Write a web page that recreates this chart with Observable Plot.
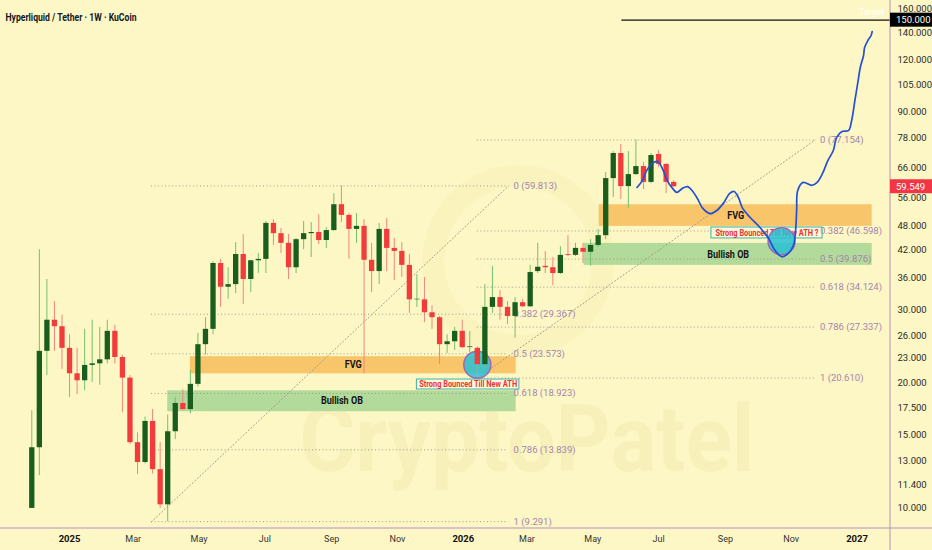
<!DOCTYPE html>
<html><head><meta charset="utf-8">
<script src="https://cdn.jsdelivr.net/npm/d3@7"></script>
<script src="https://cdn.jsdelivr.net/npm/@observablehq/plot@0.6"></script>
<style>
html,body{margin:0;padding:0;background:#fdf7c5;}
#chart{width:932px;height:550px;overflow:hidden;}
</style></head><body><div id="chart"></div>
<script>
// ---------- data ----------
const title = "Hyperliquid / Tether · 1W · KuCoin";
const firstWeek = "2024-11-27";
const open = [10.0,14.0,23.9,28.4,27.4,24.3,21.1,20.3,22.1,22.3, 22.8,26.7,23.1,20.6,14.4,12.9,16.2,12.4,10.2,15.3,
  17.9,17.3,19.9,24.8,27.0,38.9,34.1,34.6,40.9,35.6, 39.5,39.8,48.6,45.9,43.5,38.0,44.4,45.9,46.2,44.2,
  46.7,53.9,50.8,47.0,47.8,39.6,37.2,47.0,42.3,41.6, 38.5,31.8,31.8,29.6,28.8,24.8,25.2,26.7,24.4,24.3,
  22.2,30.5,32.2,30.5,29.0,31.3,30.6,37.2,38.3,38.0, 36.8,40.9,40.7,42.3,41.4,43.0,45.4,62.3,71.6,59.6,
  63.7,66.6,61.0,71.2,67.4,61.0];
const high = [17.2,42.0,35.6,31.5,29.2,26.2,24.3,27.0,28.4,27.3, 28.4,27.6,23.4,20.9,15.2,16.6,17.3,14.4,16.8,18.5,
  19.3,21.5,26.4,28.8,39.3,39.8,38.0,43.7,45.7,39.6, 41.1,49.1,49.6,47.2,45.7,44.7,49.1,48.8,51.0,47.5,
  57.3,59.813,51.3,51.3,49.6,43.5,48.6,49.9,44.7,43.7, 40.9,36.6,36.0,30.8,29.0,26.2,27.3,28.4,26.7,24.5,
  34.6,38.3,33.5,31.5,32.2,31.9,38.5,43.5,41.6,40.2, 42.7,45.4,43.5,43.5,44.4,47.0,64.4,72.4,75.3,72.4,
  77.154,68.1,71.6,72.8,67.7,61.6];
const low = [10.0,12.0,20.9,23.9,21.6,18.5,18.8,19.2,20.1,19.8, 22.3,22.3,17.0,14.25,12.07,12.8,12.1,10.0,9.291,14.65,
  17.2,16.9,19.6,23.4,26.2,30.5,31.9,32.9,31.0,33.1, 36.8,36.8,43.0,41.1,35.6,36.8,42.0,40.2,43.2,42.3,
  46.5,48.8,39.8,43.5,21.1,33.1,34.6,37.2,35.4,36.0, 29.5,30.5,28.0,27.0,22.2,23.6,24.0,24.3,23.7,20.61,
  21.85,29.5,28.4,27.7,25.7,30.5,30.5,36.8,36.8,34.4, 36.6,40.4,40.4,38.9,38.3,42.5,44.4,56.1,55.5,52.8,
  63.4,58.6,60.6,66.2,57.3,59.3];
const close = [14.0,23.9,28.4,27.4,24.3,21.1,20.3,22.1,22.3,22.8, 26.7,23.1,20.6,14.4,12.9,16.2,12.4,10.2,15.3,17.9,
  17.3,19.9,24.8,27.0,38.9,34.1,34.6,40.9,35.6,39.5, 39.8,48.6,45.9,43.5,38.0,44.4,45.9,46.2,44.2,46.7,
  53.9,50.8,47.0,47.8,39.6,37.2,47.0,42.3,41.6,38.5, 31.8,31.9,29.6,28.8,24.8,25.2,26.7,24.4,24.5,22.2,
  30.5,32.2,30.5,29.0,31.3,30.6,37.0,38.1,38.0,36.8, 40.7,40.7,42.3,41.4,43.0,45.4,62.3,71.6,59.6,63.7,
  66.6,61.0,70.8,67.4,61.0,59.549];

const zoneNames  = ["FVG","Bullish OB","FVG","Bullish OB"];
const zoneStart  = ["2025-04-23","2025-04-02","2026-05-07","2026-04-23"];
const zoneEnd    = ["2026-02-19","2026-02-19","2027-01-15","2027-01-15"];
const zoneTop    = [23.2,19.2,53.9,43.5];
const zoneBottom = [21.1,17.1,47.8,38.5];

const fibLevels = ["0","0.382","0.5","0.618","0.786","1"];
const fibLeftValues  = [59.813,29.367,23.573,18.923,13.839,9.291];
const fibRightValues = [77.154,46.598,39.876,34.124,27.337,20.610];
const fibLeftDates  = ["2025-03-18","2026-02-12"];
const fibRightDates = ["2026-01-14","2026-11-23"];

const pathDates = ["2026-06-11","2026-06-16","2026-06-20","2026-06-25","2026-06-30","2026-07-02","2026-07-05","2026-07-09",
 "2026-07-14","2026-07-18","2026-07-23","2026-07-28","2026-08-01","2026-08-06","2026-08-11","2026-08-18","2026-08-24",
 "2026-08-30","2026-09-05","2026-09-09","2026-09-13","2026-09-17","2026-09-24","2026-10-03","2026-10-11","2026-10-17",
 "2026-10-23","2026-10-29","2026-11-03","2026-11-05","2026-11-06","2026-11-07","2026-11-12","2026-11-20","2026-11-25",
 "2026-11-30","2026-12-05","2026-12-10","2026-12-13","2026-12-18","2026-12-24","2026-12-27","2026-12-30","2027-01-02",
 "2027-01-04","2027-01-07","2027-01-08","2027-01-11","2027-01-14","2027-01-15"];
const pathPrices = [59.3,61.6,65.2,67.7,68.5,67.7,65.5,61.6,
 59.0,57.7,59.0,59.6,58.3,55.8,52.8,51.3,52.2,
 54.3,57.4,58.0,56.1,52.8,50.2,47.5,44.7,41.8,
 40.4,41.1,43.0,46.7,52.2,58.3,61.0,60.0,61.0,
 64.1,68.9,72.8,78.2,80.9,81.3,86.0,96.1,107.3,
 115.4,123.3,128.9,134.0,137.8,140.8];

const bounceDates  = ["2026-01-14","2026-10-23"];
const bouncePrices = [22.2,44.0];
const calloutText   = ["Strong Bounced Till New ATH","Strong Bounced Till New ATH ?"];
const calloutStart  = ["2025-11-19","2026-08-19"];
const calloutEnd    = ["2026-02-22","2026-11-30"];
const calloutTop    = [20.44,47.5];
const calloutBottom = [19.34,44.7];

const targetPrice = 150;
const targetStart = "2026-05-28";
const lastPrice = 59.549;

const yTicks = [10,11.4,13,15,17.5,20,23,26,30,36,42,48,56,66,78,90,105,120,140,160];
const monthTicks = ["2025-03-01","2025-05-01","2025-07-01","2025-09-01","2025-11-01",
                    "2026-03-01","2026-05-01","2026-07-01","2026-09-01","2026-11-01"];
const yearTicks = ["2025-01-01","2026-01-01","2027-01-01"];

// ---------- build ----------
const D = s => new Date(s);
const xDomain = [D("2024-10-29"), D("2027-02-01")];
const yDomain = [8.946, 167.3];

const candles = open.map((o,i)=>({date: d3.utcDay.offset(D(firstWeek), 7*i), open:o, high:high[i], low:low[i], close:close[i]}));
const upC = candles.filter(d=>d.close>=d.open);
const dnC = candles.filter(d=>d.close<d.open);

const zones = zoneNames.map((n,i)=>({name:n, start:D(zoneStart[i]), end:D(zoneEnd[i]), top:zoneTop[i], bottom:zoneBottom[i],
  mid:new Date((D(zoneStart[i]).getTime()+D(zoneEnd[i]).getTime())/2), gmid:Math.sqrt(zoneTop[i]*zoneBottom[i])}));
const fvg = zones.filter(z=>z.name==="FVG"), ob = zones.filter(z=>z.name!=="FVG");

const fibL = fibLevels.map((l,i)=>({label:`${l} (${fibLeftValues[i].toFixed(3)})`, v:fibLeftValues[i]}));
const fibR = fibLevels.map((l,i)=>({label:`${l} (${fibRightValues[i].toFixed(3)})`, v:fibRightValues[i]}));
const diagL = [{x:D(fibLeftDates[0]), y:fibLeftValues[5]},{x:D(fibLeftDates[1]), y:fibLeftValues[0]}];
const diagR = [{x:D(fibRightDates[0]), y:fibRightValues[5]},{x:D(fibRightDates[1]), y:fibRightValues[0]}];

const path = pathDates.map((d,i)=>({x:D(d), y:pathPrices[i]}));
const bounces = bounceDates.map((d,i)=>({x:D(d), y:bouncePrices[i]}));
const callouts = calloutText.map((t,i)=>({t, x1:D(calloutStart[i]), x2:D(calloutEnd[i]), y1:calloutBottom[i], y2:calloutTop[i],
  xm:new Date((D(calloutStart[i]).getTime()+D(calloutEnd[i]).getTime())/2), ym:Math.sqrt(calloutTop[i]*calloutBottom[i])}));

const fibLine = {stroke:"#a19a8a", strokeWidth:1, strokeDasharray:"1,2.5"};
const fibText = {fill:"#a585ad", fontSize:9.5, textAnchor:"start", dx:5};

const plot = Plot.plot({
  width:932, height:550, marginTop:0, marginBottom:22, marginLeft:0, marginRight:42,
  style:{background:"#fdf7c5", fontFamily:"Roboto, 'Liberation Sans', sans-serif", overflow:"visible"},
  x:{type:"utc", domain:xDomain},
  y:{type:"log", domain:yDomain},
  marks:[
    // watermark
    Plot.dot([{x:D("2026-02-21"), y:39.5}], {x:"x", y:"y", r:85, fill:"none", stroke:"#c8b450", strokeOpacity:0.06, strokeWidth:22}),
    Plot.text([{x:D("2026-03-01"), y:14.5, t:"CryptoPatel"}], {x:"x", y:"y", text:"t", fontSize:92, fontWeight:"bold", fill:"#b8a13c", fillOpacity:0.08}),
    // zones
    Plot.rect(fvg, {x1:"start", x2:"end", y1:"bottom", y2:"top", fill:"#f9c56a"}),
    Plot.rect(ob, {x1:"start", x2:"end", y1:"bottom", y2:"top", fill:"#b2da9a"}),
    Plot.text(zones, {x:"mid", y:"gmid", text:"name", fontSize:10, fontWeight:"bold", fill:"#141414"}),
    // fib
    Plot.ruleY(fibL, {y:"v", x1:()=>D(fibLeftDates[0]), x2:()=>D(fibLeftDates[1]), ...fibLine}),
    Plot.ruleY(fibR, {y:"v", x1:()=>D(fibRightDates[0]), x2:()=>D(fibRightDates[1]), ...fibLine}),
    Plot.line(diagL, {x:"x", y:"y", ...fibLine}),
    Plot.line(diagR, {x:"x", y:"y", ...fibLine}),
    Plot.text(fibL, {x:()=>D(fibLeftDates[1]), y:"v", text:"label", ...fibText}),
    Plot.text(fibR, {x:()=>D(fibRightDates[1]), y:"v", text:"label", ...fibText}),
    // target line
    Plot.ruleY([targetPrice], {y:d=>d, x1:()=>D(targetStart), x2:()=>xDomain[1], stroke:"#111", strokeWidth:1.2}),
    Plot.text([targetPrice], {y:d=>d, x:()=>xDomain[1], text:()=>"Target", textAnchor:"end", dx:-6, dy:-8, fill:"#ffffff", fontSize:9}),
    // callouts
    Plot.rect(callouts, {x1:"x1", x2:"x2", y1:"y1", y2:"y2", fill:"#ffffff", fillOpacity:0.35, stroke:"#3db2a6", strokeWidth:1}),
    Plot.text(callouts, {x:"xm", y:"ym", text:"t", fill:"#e8343a", fontWeight:"bold", fontSize:9}),
    // bounce circles
    Plot.dot(bounces, {x:"x", y:"y", r:13.5, fill:"#27c0d4", fillOpacity:0.85, stroke:"#a566b3", strokeWidth:1.5}),
    // candles
    Plot.ruleX(upC, {x:"date", y1:"low", y2:"high", stroke:"#74c06c", strokeWidth:1}),
    Plot.ruleX(dnC, {x:"date", y1:"low", y2:"high", stroke:"#f2857d", strokeWidth:1}),
    Plot.ruleX(upC, {x:"date", y1:"open", y2:"close", stroke:"#195e1d", strokeWidth:5.3}),
    Plot.ruleX(dnC, {x:"date", y1:"open", y2:"close", stroke:"#f23b3b", strokeWidth:5.3}),
    // projection
    Plot.line(path, {x:"x", y:"y", stroke:"#2450d4", strokeWidth:1.7, curve:"catmull-rom"}),
    // axes
    Plot.axisY({anchor:"right", ticks:yTicks, tickFormat:d=>d.toFixed(3), tickSize:0, tickPadding:7, fontSize:9.5, fill:"#2b2b2b", label:null}),
    Plot.axisX({ticks:monthTicks.map(D), tickFormat:d3.utcFormat("%b"), tickSize:0, tickPadding:7, fontSize:9, fill:"#333", label:null}),
    Plot.axisX({ticks:yearTicks.map(D), tickFormat:d3.utcFormat("%Y"), tickSize:0, tickPadding:7, fontSize:9.5, fontWeight:"bold", fill:"#111", label:null}),
    // title
    Plot.text([title], {frameAnchor:"top-left", text:d=>d, textAnchor:"start", dx:5, dy:13, fontSize:11, fontWeight:"bold", fill:"#131722"})
  ]
});

// post-render decorations using Plot's scales
const svg = d3.select(plot);
const ys = plot.scale("y");
const W = 932, H = 550, axisX = W - 42, axisY = H - 22;
svg.append("line").attr("x1",axisX).attr("x2",axisX).attr("y1",0).attr("y2",H).attr("stroke","#b98fc2").attr("stroke-width",1);
svg.append("line").attr("x1",0).attr("x2",W).attr("y1",axisY).attr("y2",axisY).attr("stroke","#b98fc2").attr("stroke-width",1);
[[targetPrice,"#000000"],[lastPrice,"#f23645"]].forEach(([v,c])=>{
  const g = svg.append("g").attr("transform",`translate(${axisX},${ys.apply(v)})`);
  g.append("rect").attr("x",0).attr("y",-7).attr("width",42).attr("height",14).attr("fill",c);
  g.append("text").attr("x",6).attr("y",0).attr("dy","0.35em").attr("text-anchor","start")
    .attr("fill","#fff").attr("font-size",9.5).text(v.toFixed(3));
});
// fit condensed texts to reference widths
const fits = {"Hyperliquid / Tether · 1W · KuCoin":131, "Strong Bounced Till New ATH":98, "Strong Bounced Till New ATH ?":103, "CryptoPatel":455, "Bullish OB":42, "FVG":17};
svg.selectAll("text").each(function(){
  const t = this.textContent;
  if (fits[t]) { this.setAttribute("textLength", fits[t]); this.setAttribute("lengthAdjust","spacingAndGlyphs"); }
});
document.getElementById("chart").appendChild(plot);
</script>
</body></html>
